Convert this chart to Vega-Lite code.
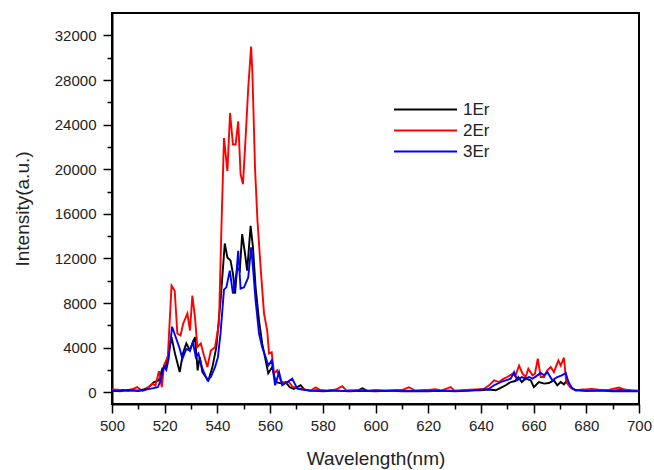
{
  "$schema": "https://vega.github.io/schema/vega-lite/v6.json",
  "width": 527,
  "height": 391,
  "autosize": "none",
  "padding": {"left": 112, "top": 13, "right": 15, "bottom": 66},
  "background": "white",
  "config": {
    "font": "Liberation Sans",
    "view": {"stroke": "#000", "strokeWidth": 2},
    "axis": {"grid": false, "domainColor": "#000", "domainWidth": 2, "tickColor": "#000", "tickWidth": 1.5, "labelColor": "#222", "titleColor": "#222", "labelFontSize": 15, "titleFontSize": 19, "titleFontWeight": "normal", "labelOverlap": false, "labelFlush": false}
  },
  "datasets": {
    "er1": [
      {"x":500,"y":150},{"x":502,"y":120},{"x":504,"y":200},{"x":506,"y":130},{"x":508,"y":180},{"x":510,"y":120},{"x":512,"y":250},{"x":514,"y":470},{"x":516,"y":920},{"x":517.8,"y":1070},{"x":519.1,"y":2140},{"x":520.4,"y":2260},{"x":521.6,"y":3750},{"x":522.6,"y":4940},{"x":523.9,"y":3480},{"x":525.7,"y":1810},{"x":526.9,"y":3480},{"x":528.2,"y":4380},{"x":529.6,"y":3750},{"x":530.5,"y":4380},{"x":531.5,"y":4940},{"x":532.5,"y":1970},{"x":533.3,"y":3150},{"x":534.3,"y":1810},{"x":535.6,"y":1370},{"x":536.6,"y":1070},{"x":538.1,"y":2260},{"x":539.6,"y":4050},{"x":541.2,"y":8220},{"x":542.8,"y":13340},{"x":543.8,"y":12090},{"x":545,"y":11800},{"x":545.9,"y":10630},{"x":546.7,"y":8850},{"x":547.5,"y":11200},{"x":548.5,"y":10900},{"x":549.4,"y":14180},{"x":550.5,"y":12400},{"x":551.3,"y":10900},{"x":552.6,"y":14920},{"x":553.5,"y":12990},{"x":554.5,"y":9410},{"x":555.8,"y":6430},{"x":557,"y":4380},{"x":558.3,"y":2860},{"x":559.3,"y":1700},{"x":560.8,"y":2260},{"x":562.1,"y":920},{"x":564,"y":800},{"x":565.9,"y":920},{"x":567.5,"y":450},{"x":569,"y":300},{"x":571.6,"y":630},{"x":573,"y":250},{"x":575,"y":150},{"x":578,"y":180},{"x":581,"y":120},{"x":584,"y":200},{"x":587,"y":130},{"x":590,"y":150},{"x":593,"y":120},{"x":595,"y":350},{"x":597,"y":120},{"x":600,"y":150},{"x":604,"y":120},{"x":608,"y":180},{"x":612,"y":120},{"x":616,"y":150},{"x":620,"y":180},{"x":624,"y":120},{"x":628,"y":150},{"x":632,"y":130},{"x":636,"y":200},{"x":640,"y":180},{"x":643,"y":250},{"x":645.6,"y":180},{"x":647.5,"y":390},{"x":649.4,"y":630},{"x":651.3,"y":920},{"x":653,"y":1010},{"x":654.2,"y":1370},{"x":655.5,"y":920},{"x":657,"y":1220},{"x":658.9,"y":1070},{"x":660.1,"y":470},{"x":662,"y":920},{"x":664,"y":780},{"x":665.8,"y":830},{"x":667.7,"y":1070},{"x":669,"y":630},{"x":670.3,"y":920},{"x":671.5,"y":710},{"x":672.8,"y":1130},{"x":674,"y":470},{"x":676,"y":180},{"x":678.5,"y":240},{"x":682,"y":150},{"x":686,"y":200},{"x":690,"y":150},{"x":693,"y":200},{"x":695,"y":240},{"x":697,"y":130},{"x":700,"y":120}
    ],
    "er2": [
      {"x":500,"y":250},{"x":502,"y":230},{"x":504,"y":150},{"x":506,"y":200},{"x":508,"y":300},{"x":509.6,"y":470},{"x":511.5,"y":120},{"x":513,"y":250},{"x":515.3,"y":780},{"x":516.5,"y":600},{"x":517.8,"y":1900},{"x":518.9,"y":470},{"x":519.7,"y":2400},{"x":521.2,"y":3200},{"x":522.6,"y":9560},{"x":523.8,"y":9100},{"x":524.8,"y":5270},{"x":526,"y":5100},{"x":527,"y":6150},{"x":528.6,"y":7060},{"x":529.6,"y":5540},{"x":530.5,"y":8670},{"x":531.5,"y":6700},{"x":532.4,"y":4050},{"x":533.7,"y":4380},{"x":534.9,"y":3300},{"x":536.2,"y":2260},{"x":537.5,"y":3750},{"x":539.1,"y":4050},{"x":540.6,"y":6150},{"x":541.6,"y":15370},{"x":542.5,"y":22800},{"x":543.8,"y":19840},{"x":544.8,"y":25050},{"x":545.9,"y":22220},{"x":546.9,"y":22220},{"x":547.9,"y":24300},{"x":548.8,"y":19550},{"x":549.7,"y":18670},{"x":550.7,"y":22800},{"x":551.7,"y":27280},{"x":552.8,"y":31010},{"x":553.3,"y":28500},{"x":554.3,"y":20000},{"x":555.2,"y":15400},{"x":556.4,"y":11200},{"x":557.7,"y":7060},{"x":558.9,"y":5540},{"x":559.6,"y":3480},{"x":560.6,"y":3600},{"x":561.5,"y":1700},{"x":562.7,"y":1970},{"x":564,"y":1070},{"x":565.3,"y":800},{"x":567.2,"y":920},{"x":568.5,"y":500},{"x":570,"y":400},{"x":572,"y":300},{"x":574,"y":200},{"x":575.5,"y":150},{"x":577.3,"y":450},{"x":579,"y":200},{"x":582,"y":150},{"x":585,"y":250},{"x":587.4,"y":540},{"x":589,"y":150},{"x":593,"y":200},{"x":597,"y":150},{"x":600,"y":200},{"x":605,"y":150},{"x":610,"y":200},{"x":612.7,"y":450},{"x":615,"y":150},{"x":620,"y":200},{"x":622.8,"y":270},{"x":625,"y":150},{"x":628.5,"y":470},{"x":630,"y":150},{"x":634,"y":200},{"x":638,"y":250},{"x":641,"y":300},{"x":643,"y":600},{"x":645,"y":1070},{"x":646.9,"y":920},{"x":648.5,"y":1200},{"x":650,"y":1370},{"x":652,"y":1670},{"x":653,"y":1430},{"x":654.5,"y":2400},{"x":655.8,"y":1670},{"x":657,"y":1370},{"x":658,"y":2110},{"x":659.6,"y":1520},{"x":660.5,"y":1670},{"x":661.6,"y":3010},{"x":662.7,"y":1370},{"x":664,"y":1370},{"x":665.2,"y":1970},{"x":666.5,"y":2260},{"x":667.7,"y":1810},{"x":669.4,"y":2860},{"x":670.3,"y":2400},{"x":671.5,"y":3100},{"x":672.4,"y":920},{"x":674,"y":420},{"x":676,"y":180},{"x":678.5,"y":240},{"x":682,"y":300},{"x":684.8,"y":240},{"x":688,"y":200},{"x":692.4,"y":420},{"x":695,"y":200},{"x":700,"y":150}
    ],
    "er3": [
      {"x":500,"y":150},{"x":503,"y":100},{"x":506,"y":200},{"x":509,"y":150},{"x":512,"y":200},{"x":515.3,"y":350},{"x":517.4,"y":450},{"x":518.5,"y":1100},{"x":519.7,"y":2300},{"x":520.6,"y":2000},{"x":521.5,"y":3000},{"x":522.8,"y":5880},{"x":524.2,"y":4940},{"x":525.7,"y":3900},{"x":526.7,"y":3000},{"x":528.2,"y":3900},{"x":529.5,"y":3750},{"x":530.7,"y":4500},{"x":531.8,"y":3150},{"x":532.8,"y":3480},{"x":534.3,"y":2120},{"x":536.2,"y":1070},{"x":537.5,"y":1370},{"x":539.1,"y":2260},{"x":540.2,"y":3150},{"x":541.2,"y":5300},{"x":542.5,"y":9200},{"x":543.4,"y":9410},{"x":544.7,"y":10900},{"x":545.9,"y":8850},{"x":547.2,"y":10630},{"x":547.9,"y":12690},{"x":548.8,"y":9290},{"x":550.1,"y":9410},{"x":551.7,"y":10300},{"x":552.8,"y":12990},{"x":553.5,"y":11200},{"x":554.5,"y":8220},{"x":555.8,"y":5270},{"x":557,"y":4050},{"x":558.3,"y":3150},{"x":559.3,"y":2400},{"x":560.6,"y":2860},{"x":561.9,"y":630},{"x":563.4,"y":1810},{"x":564.6,"y":630},{"x":566.5,"y":920},{"x":568.4,"y":1220},{"x":570.3,"y":330},{"x":572,"y":250},{"x":575,"y":150},{"x":580,"y":100},{"x":585,"y":150},{"x":590,"y":100},{"x":595,"y":130},{"x":600,"y":100},{"x":605,"y":150},{"x":610,"y":100},{"x":615,"y":120},{"x":620,"y":100},{"x":625,"y":150},{"x":630,"y":100},{"x":635,"y":130},{"x":640,"y":240},{"x":643,"y":300},{"x":645,"y":630},{"x":647.5,"y":920},{"x":649.4,"y":1070},{"x":651.3,"y":1220},{"x":652.6,"y":1810},{"x":653.8,"y":1070},{"x":655.5,"y":1370},{"x":657,"y":1220},{"x":658.3,"y":1370},{"x":659.6,"y":1220},{"x":660.9,"y":1430},{"x":662.7,"y":1730},{"x":664,"y":1520},{"x":665.2,"y":1810},{"x":667.1,"y":1070},{"x":669,"y":1370},{"x":670.7,"y":1520},{"x":672.2,"y":1730},{"x":673.2,"y":920},{"x":674.7,"y":330},{"x":676,"y":180},{"x":680,"y":120},{"x":685,"y":150},{"x":690,"y":100},{"x":695,"y":120},{"x":700,"y":90}
    ]
  },
  "layer": [
    {
      "encoding": {
        "x": {
          "field": "x", "type": "quantitative",
          "scale": {"domain": [500, 700], "nice": false, "zero": false},
          "axis": {
            "title": "Wavelength(nm)", "orient": "bottom",
            "values": [500,520,540,560,580,600,620,640,660,680,700],
            "format": "d", "tickSize": 9, "labelPadding": 5, "titlePadding": 16
          }
        },
        "y": {
          "field": "y", "type": "quantitative",
          "scale": {"domain": [-1050, 34010], "nice": false, "zero": false},
          "axis": {
            "title": "Intensity(a.u.)", "orient": "left",
            "values": [0,4000,8000,12000,16000,20000,24000,28000,32000],
            "format": "d", "tickSize": 9, "labelPadding": 7, "titlePadding": 22
          }
        },
        "color": {
          "type": "nominal",
          "scale": {"domain": ["1Er", "2Er", "3Er"], "range": ["#000000", "#ff0000", "#0000ff"]},
          "legend": {
            "title": null, "orient": "none", "legendX": 302, "legendY": 85,
            "symbolType": "M-3,0H3", "symbolSize": 441, "symbolStrokeWidth": 2,
            "labelFontSize": 17, "labelColor": "#222", "labelOffset": 26, "rowPadding": 1
          }
        }
      },
      "layer": [
        {"data": {"name": "er1"}, "mark": {"type": "line", "strokeWidth": 1.9}, "encoding": {"color": {"datum": "1Er"}}},
        {"data": {"name": "er2"}, "mark": {"type": "line", "strokeWidth": 1.9}, "encoding": {"color": {"datum": "2Er"}}},
        {"data": {"name": "er3"}, "mark": {"type": "line", "strokeWidth": 1.9}, "encoding": {"color": {"datum": "3Er"}}}
      ]
    },
    {
      "data": {"name": "er1"},
      "mark": {"type": "line", "strokeOpacity": 0},
      "encoding": {
        "x": {
          "field": "x", "type": "quantitative",
          "scale": {"domain": [500, 700], "nice": false, "zero": false},
          "axis": {"title": null, "orient": "bottom", "values": [510,530,550,570,590,610,630,650,670,690], "tickSize": 5, "labels": false, "domain": false}
        },
        "y": {
          "field": "y", "type": "quantitative",
          "scale": {"domain": [-1050, 34010], "nice": false, "zero": false},
          "axis": {"title": null, "orient": "left", "values": [2000,6000,10000,14000,18000,22000,26000,30000], "tickSize": 5, "labels": false, "domain": false}
        }
      }
    }
  ],
  "resolve": {"axis": {"x": "independent", "y": "independent"}}
}
